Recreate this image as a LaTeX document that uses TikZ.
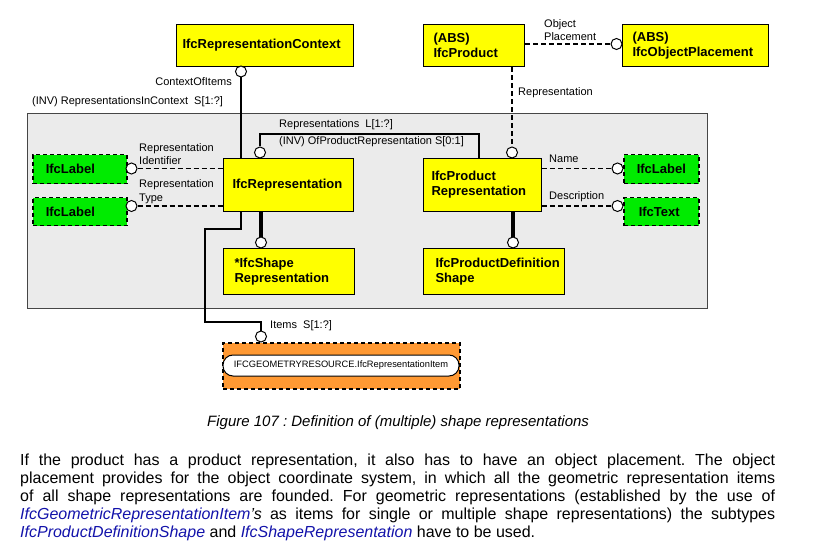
\documentclass[tikz,border=0pt]{standalone}
\usepackage{fontspec}
\setmainfont{Liberation Sans}
\frenchspacing
\definecolor{entyellow}{RGB}{255,255,0}
\definecolor{selgreen}{RGB}{0,235,0}
\definecolor{schemaorange}{RGB}{255,153,51}
\definecolor{framegray}{RGB}{235,235,235}
\definecolor{framedraw}{RGB}{70,70,70}
\definecolor{ifcblue}{RGB}{18,18,170}
\newcommand{\ifcname}[1]{\textcolor{ifcblue}{\itshape #1}}

\begin{document}
\begin{tikzpicture}[x=1pt, y=-1pt,
    dims/.style n args={3}{minimum width=#1pt, minimum height=#2pt, text width=#3pt},
    entity/.style={draw, line width=1.1pt, fill=entyellow, anchor=north west, inner sep=0pt,
      align=left, font=\fontsize{13}{15}\selectfont\bfseries},
    select/.style={entity, fill=selgreen, dashed, dash pattern=on 4pt off 3pt, line width=1.5pt},
    lolly/.style={circle, draw, line width=1pt, fill=white, minimum size=11pt, inner sep=0pt},
    attr/.style={inner sep=0pt, anchor=base west, align=left, font=\fontsize{11}{13.5}\selectfont},
    conn/.style={line width=1.1pt},
    ref/.style={line width=1.7pt, dash pattern=on 5pt off 3pt},
    agg/.style={line width=4.5pt}]
  \useasboundingbox (0,0) rectangle (828,559);

  % Grey frame
  \node[draw=framedraw, line width=1.2pt, fill=framegray, anchor=north west,
    minimum width=680pt, minimum height=195pt] (frame) at (27,113) {};

  % Entities
  \node[entity, dims={177}{42}{165}] (ctx) at (176,24) {IfcRepresentationContext};
  \node[entity, dims={101}{42}{81}] (prod) at (423,24) {(ABS)\\*IfcProduct};
  \node[entity, dims={146}{42}{126}] (place) at (622,24) {(ABS)\\IfcObjectPlacement};
  \node[entity, dims={130}{53}{112}] (rep) at (223,158) {IfcRepresentation};
  \node[entity, dims={118}{53}{102}] (prep) at (423,158) {IfcProduct\\Representation};
  \node[entity, dims={131}{46}{109}] (shape) at (223,248) {*IfcShape\\Representation};
  \node[entity, dims={141}{46}{117}] (pds) at (423,248) {IfcProductDefinition\\Shape};

  % Selects and types
  \node[select, dims={94}{29}{68}] (idlabel) at (32,154) {IfcLabel};
  \node[select, dims={94}{28}{68}] (typelabel) at (32,197) {IfcLabel};
  \node[select, dims={75}{29}{49}] (namelabel) at (623,154) {IfcLabel};
  \node[select, dims={75}{28}{45}] (desctext) at (623,197) {IfcText};

  % Other schema
  \node[draw, fill=schemaorange, line width=1.5pt, dash pattern=on 4pt off 3pt, anchor=north west,
    minimum width=237pt, minimum height=46pt] (res) at (222,342) {};
  \node[draw, fill=white, line width=1pt, rounded corners=10pt, minimum width=236pt,
    minimum height=21pt, inner sep=0pt, font=\fontsize{9.3}{11}\selectfont] (item) at (341,365.5)
    {IFCGEOMETRYRESOURCE.IfcRepresentationItem};

  % Relationship ends
  \node[lolly] (ctxc) at (241,71.5) {};
  \node[lolly] (placec) at (616.5,44) {};
  \node[lolly] (prodc) at (512,152.5) {};
  \node[lolly] (repc) at (260,152.5) {};
  \node[lolly] (idc) at (131.5,168.5) {};
  \node[lolly] (typec) at (131.5,206) {};
  \node[lolly] (namec) at (617.5,168.5) {};
  \node[lolly] (descc) at (617.5,206) {};
  \node[lolly] (shapec) at (261,242.5) {};
  \node[lolly] (pdsc) at (513,242.5) {};
  \node[lolly] (itemc) at (261,336.5) {};

  \coordinate (repsbend) at (479,134);
  \coordinate (itemsA) at (205,229);
  \coordinate (itemsB) at (205,322);

  % Connectors
  \draw[conn] (ctxc) -- (ctxc |- rep.north);
  \draw[conn] (ctxc |- rep.south) |- (itemsA) -- (itemsB) -| (itemc);
  \draw[conn] (repc) |- (repsbend) -- (repsbend |- prep.north);
  \draw[ref] (prod.east |- placec) -- (placec);
  \draw[ref] (prod.south -| prodc) -- (prodc);
  \draw[ref] (idc) -- (rep.west |- idc);
  \draw[ref] (typec) -- (rep.west |- typec);
  \draw[ref] (prep.east |- namec) -- (namec);
  \draw[ref] (prep.east |- descc) -- (descc);
  \draw[agg] (rep.south -| shapec) -- (shapec);
  \draw[agg] (prep.south -| pdsc) -- (pdsc);

  % Attribute names
  \node[attr, anchor=base east] (ctxlbl) at (232,86) {ContextOfItems};
  \node[attr] (invctx) at (32,105) {(INV) RepresentationsInContext\ \ S[1:?]};
  \node[attr] (repslbl) at (279,128) {Representations\ \ L[1:?]};
  \node[attr] (invprep) at (279,145) {(INV) OfProductRepresentation S[0:1]};
  \node[attr] (idlbl) at (139,165) {Representation\\Identifier};
  \node[attr] (typelbl) at (139,201) {Representation\\Type};
  \node[attr] (placelbl) at (544,41) {Object\\Placement};
  \node[attr] (prodlbl) at (518,96) {Representation};
  \node[attr] (namelbl) at (549,163) {Name};
  \node[attr] (desclbl) at (549,200) {Description};
  \node[attr] (itemslbl) at (270,328) {Items\ \ S[1:?]};

  % Caption and text
  \node[inner sep=0pt, anchor=base west, font=\fontsize{15}{18}\selectfont\itshape] (caption)
    at (207,426) {Figure 107 : Definition of (multiple) shape representations};
  \node[inner sep=0pt, anchor=north west, text width=755pt, align=justify,
    font=\fontsize{16}{18}\selectfont] (para) at (20,453.3)
    {If the product has a product representation, it also has to have an object placement. The object\linebreak
     placement provides for the object coordinate system, in which all the geometric representation items\linebreak
     of all shape representations are founded. For geometric representations (established by the use of\linebreak
     \ifcname{IfcGeometricRepresentationItem}\textit{'s} as items for single or multiple shape representations) the subtypes\linebreak
     \ifcname{IfcProductDefinitionShape} and \ifcname{IfcShapeRepresentation} have to be used.};
\end{tikzpicture}
\end{document}
